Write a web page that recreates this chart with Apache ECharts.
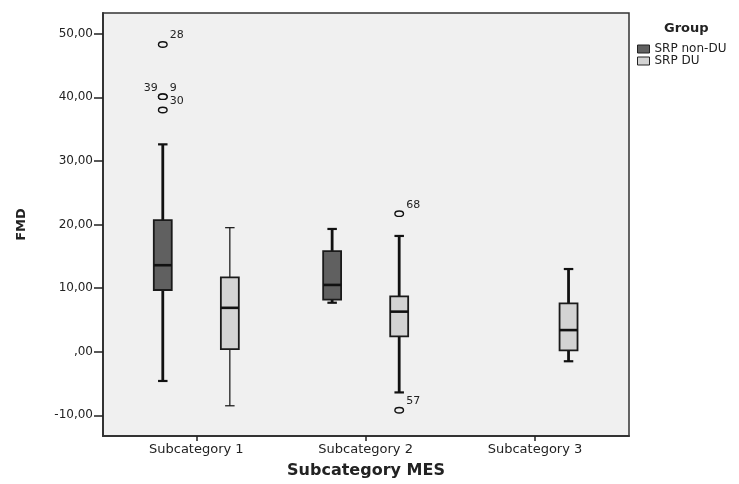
<!DOCTYPE html>
<html>
<head>
<meta charset="utf-8">
<script src="https://cdn.jsdelivr.net/npm/echarts@6/dist/echarts.min.js"></script>
<style>
  html, body { margin: 0; padding: 0; background: #fff; }
  #chart { width: 739px; height: 484px; }
</style>
</head>
<body>
<div id="chart"></div>
<script>
// categories on the x axis
const categories = ['Subcategory 1', 'Subcategory 2', 'Subcategory 3']
const groups = ['SRP non-DU', 'SRP DU']
// [low whisker, Q1, median, Q3, high whisker] per category, null = no box
const nonDU = [
	[-4.6, 9.7, 13.6, 20.7, 32.6],
	[7.7, 8.2, 10.5, 15.8, 19.3],
	null
]
const du = [
	[-8.5, 0.4, 6.9, 11.7, 19.5],
	[-6.4, 2.4, 6.3, 8.7, 18.2],
	[-1.5, 0.2, 3.4, 7.6, 13.0]
]
// outliers: category index, group index, value, case label
const outliers = [
	[0, 0, 48.3, '28'],
	[0, 0, 40.1, '39'],
	[0, 0, 40.1, '9'],
	[0, 0, 38.0, '30'],
	[1, 1, 21.7, '68'],
	[1, 1, -9.2, '57']
]
const yTicks = [-10, 0, 10, 20, 30, 40, 50]

const FONT = 'DejaVu Sans'
const fills = ['#606060', '#d3d3d3']
// offset of each group inside a category band (fraction of band)
const groupShift = [-0.198, 0.198]
const boxHalf = 0.053
const capHalf = 0.028
// thin whiskers: [group, category]
const thinWhiskers = [[1, 0]]
const leftLabels = ['39']

const toRows = (arr) => arr.map((d, i) => (d ? [i].concat(d) : null)).filter((d) => d)

const boxRender = (g) => (params, api) => {
	const cat = api.value(0)
	const band = api.size([1, 0])[0]
	const c = api.coord([cat, api.value(3)])
	const x = c[0] + groupShift[g] * band
	const half = boxHalf * band
	const cap = capHalf * band
	const y = (k) => api.coord([cat, api.value(k)])[1]
	const yLow = y(1), yQ1 = y(2), yMed = y(3), yQ3 = y(4), yHigh = y(5)
	const thin = thinWhiskers.some((t) => t[0] === g && t[1] === cat)
	const lw = thin ? 1.2 : 2.8
	const ws = { stroke: '#111', lineWidth: lw }
	return {
		type: 'group',
		children: [
			{ type: 'line', shape: { x1: x, y1: yLow, x2: x, y2: yQ1 }, style: ws },
			{ type: 'line', shape: { x1: x, y1: yQ3, x2: x, y2: yHigh }, style: ws },
			{ type: 'line', shape: { x1: x - cap, y1: yLow, x2: x + cap, y2: yLow }, style: { stroke: '#111', lineWidth: thin ? 1.2 : 2.2 } },
			{ type: 'line', shape: { x1: x - cap, y1: yHigh, x2: x + cap, y2: yHigh }, style: { stroke: '#111', lineWidth: thin ? 1.2 : 2.2 } },
			{ type: 'rect', shape: { x: x - half, y: yQ3, width: half * 2, height: yQ1 - yQ3 }, style: { fill: fills[g], stroke: '#1a1a1a', lineWidth: 1.8 } },
			{ type: 'line', shape: { x1: x - half, y1: yMed, x2: x + half, y2: yMed }, style: { stroke: '#111', lineWidth: 2.6 } }
		]
	}
}

const outlierRender = (params, api) => {
	const o = outliers[params.dataIndex]
	const band = api.size([1, 0])[0]
	const c = api.coord([o[0], o[2]])
	const x = c[0] + groupShift[o[1]] * band
	const left = leftLabels.indexOf(o[3]) >= 0
	return {
		type: 'group',
		children: [
			{ type: 'ellipse', shape: { cx: x, cy: c[1], rx: 4.3, ry: 2.7 }, style: { fill: '#f0f0f0', stroke: '#111', lineWidth: 1.4 } },
			{
				type: 'text',
				x: left ? x - 5 : x + 7,
				y: c[1] - 9,
				style: {
					text: o[3], fill: '#222', font: '11px ' + FONT,
					align: left ? 'right' : 'left', textAlign: left ? 'right' : 'left',
					verticalAlign: 'middle', textVerticalAlign: 'middle'
				}
			}
		]
	}
}

const chart = echarts.init(document.getElementById('chart'))
const option = {
	animation: false,
	backgroundColor: '#ffffff',
	title: {
		text: 'Group',
		left: 659,
		top: 17,
		textStyle: { fontFamily: FONT, fontSize: 13, fontWeight: 'bold', color: '#222' }
	},
	legend: {
		data: groups,
		orient: 'vertical',
		left: 632,
		top: 38,
		itemWidth: 12,
		itemHeight: 8,
		itemGap: 0,
		icon: 'rect',
		itemStyle: { borderColor: '#222', borderWidth: 1 },
		textStyle: { fontFamily: FONT, fontSize: 12, lineHeight: 10, color: '#222' }
	},
	grid: {
		left: 103,
		right: 110,
		top: 13,
		bottom: 46,
		show: true,
		backgroundColor: '#f0f0f0',
		borderColor: '#333',
		borderWidth: 1.5
	},
	xAxis: {
		type: 'value',
		min: -0.551,
		max: 2.555,
		name: 'Subcategory MES',
		nameLocation: 'middle',
		nameGap: 27,
		nameTextStyle: { fontFamily: FONT, fontSize: 16, fontWeight: 'bold', color: '#222' },
		axisLine: { show: true, onZero: false, lineStyle: { color: '#333', width: 2 } },
		axisTick: { show: true, length: 5, customValues: [0, 1, 2], lineStyle: { color: '#222', width: 1.5 } },
		axisLabel: {
			customValues: [0, 1, 2],
			margin: 7,
			fontFamily: FONT,
			fontSize: 13,
			color: '#222',
			formatter: (v) => categories[Math.round(v)]
		},
		splitLine: { show: false }
	},
	yAxis: {
		type: 'value',
		min: -13.25,
		max: 53.25,
		name: 'FMD',
		nameLocation: 'middle',
		nameGap: 75,
		nameRotate: 90,
		nameTextStyle: { fontFamily: FONT, fontSize: 13, fontWeight: 'bold', color: '#222' },
		axisLine: { show: true, onZero: false, lineStyle: { color: '#333', width: 2 } },
		axisTick: { show: true, length: 9, customValues: yTicks, lineStyle: { color: '#222', width: 1.5 } },
		axisLabel: {
			customValues: yTicks,
			margin: 10,
			fontFamily: FONT,
			fontSize: 12,
			color: '#222',
			formatter: (v) => (v === 0 ? ',00' : v.toFixed(2).replace('.', ','))
		},
		splitLine: { show: false }
	},
	series: [
		{
			name: groups[0],
			type: 'custom',
			itemStyle: { color: fills[0] },
			renderItem: boxRender(0),
			encode: { x: 0, y: [1, 2, 3, 4, 5] },
			data: toRows(nonDU)
		},
		{
			name: groups[1],
			type: 'custom',
			itemStyle: { color: fills[1] },
			renderItem: boxRender(1),
			encode: { x: 0, y: [1, 2, 3, 4, 5] },
			data: toRows(du)
		},
		{
			name: 'outliers',
			type: 'custom',
			renderItem: outlierRender,
			encode: { x: 0, y: 2 },
			data: outliers.map((o) => [o[0], o[1], o[2]])
		}
	]
}
chart.setOption(option)
</script>
</body>
</html>
